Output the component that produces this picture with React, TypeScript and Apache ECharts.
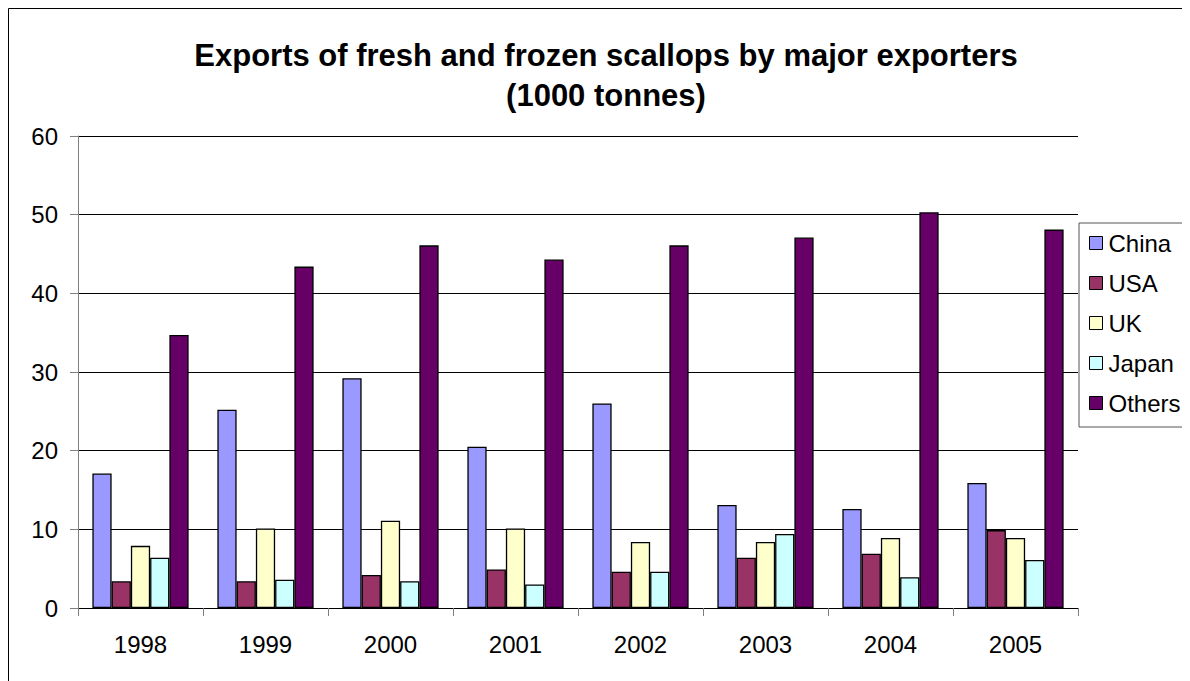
import React, { useEffect, useRef } from "react";
import * as echarts from "echarts";

const years = ["1998", "1999", "2000", "2001", "2002", "2003", "2004", "2005"];
const china = [17.1, 25.2, 29.2, 20.5, 26.0, 13.1, 12.6, 15.9];
const usa = [3.4, 3.4, 4.2, 4.9, 4.6, 6.4, 6.9, 9.9];
const uk = [7.9, 10.1, 11.1, 10.1, 8.4, 8.4, 8.9, 8.9];
const japan = [6.4, 3.6, 3.4, 3.0, 4.6, 9.4, 3.9, 6.1];
const others = [34.7, 43.4, 46.1, 44.3, 46.1, 47.1, 50.3, 48.1];

const seriesNames = ["China", "USA", "UK", "Japan", "Others"];
const seriesData = [china, usa, uk, japan, others];
const seriesColors = ["#9999FF", "#993366", "#FFFFCC", "#CCFFFF", "#660066"];

const FONT = "'Liberation Sans', Arial, sans-serif";

export default function App() {
  const ref = useRef<HTMLDivElement>(null);
  useEffect(() => {
    if (!ref.current) return;
    const chart = echarts.init(ref.current, null, { renderer: "svg" });
    chart.setOption({
      animation: false,
      backgroundColor: "#ffffff",
      textStyle: { fontFamily: FONT },
      title: {
        text: "Exports of fresh and frozen scallops by major exporters\n(1000 tonnes)",
        left: 593,
        top: 22,
        textAlign: "center",
        textStyle: {
          fontFamily: FONT,
          fontSize: 31,
          fontWeight: "bold",
          color: "#000",
          lineHeight: 40,
          align: "center",
        },
      },
      graphic: [
        {
          type: "rect",
          silent: true,
          shape: { x: 0.5, y: 0.5, width: 1300, height: 800 },
          style: { fill: "none", stroke: "#000", lineWidth: 1 },
          z: 100,
        },
      ],
      legend: {
        orient: "vertical",
        left: 1071,
        top: 215,
        padding: [8, 8, 12, 10],
        itemGap: 16,
        itemWidth: 13,
        itemHeight: 13,
        icon: "rect",
        borderColor: "#555",
        borderWidth: 1,
        backgroundColor: "#fff",
        textStyle: {
          fontFamily: FONT,
          fontSize: 24,
          color: "#000",
          lineHeight: 24,
          padding: [0, 0, 0, 1],
        },
        itemStyle: { borderColor: "#000", borderWidth: 1 },
        data: seriesNames,
      },
      grid: { left: 70, top: 128, width: 1000, height: 472, containLabel: false },
      xAxis: {
        type: "category",
        data: years,
        boundaryGap: true,
        axisLine: { show: true, lineStyle: { color: "#000", width: 1 } },
        axisTick: { show: true, length: 8, lineStyle: { color: "#808080" } },
        axisLabel: { fontFamily: FONT, fontSize: 24, color: "#000", margin: 24 },
        splitLine: { show: false },
      },
      yAxis: {
        type: "value",
        min: 0,
        max: 60,
        interval: 10,
        axisLine: { show: true, lineStyle: { color: "#808080", width: 1 } },
        axisTick: { show: true, length: 8, lineStyle: { color: "#808080" } },
        axisLabel: { fontFamily: FONT, fontSize: 24, color: "#000", margin: 20 },
        splitLine: { show: true, lineStyle: { color: "#000", width: 1 } },
      },
      series: seriesNames.map((name, i) => ({
        name,
        type: "bar",
        data: seriesData[i],
        barGap: "0%",
        barCategoryGap: "23%",
        itemStyle: {
          color: seriesColors[i],
          borderColor: "#000",
          borderWidth: 1.3,
        },
      })),
    });
    return () => chart.dispose();
  }, []);
  return <div ref={ref} style={{ width: 1182, height: 673 }} />;
}
